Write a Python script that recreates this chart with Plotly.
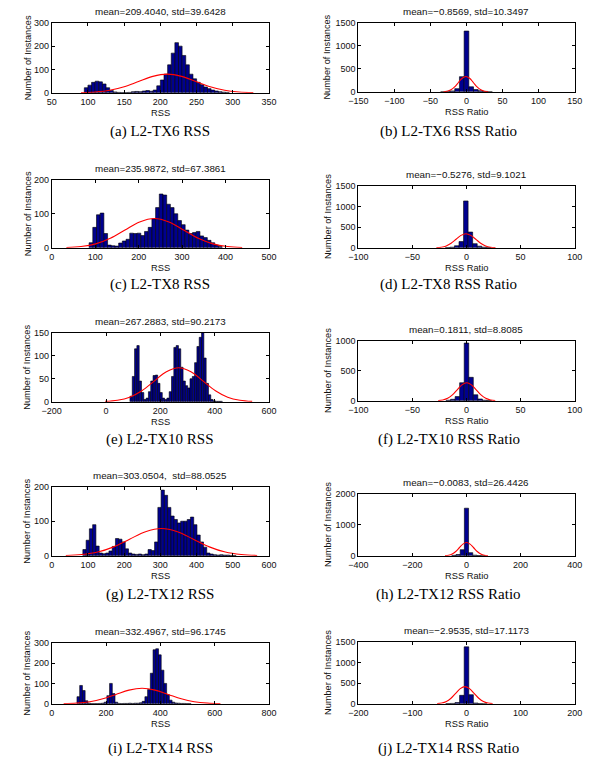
import numpy as np
import plotly.graph_objects as go

W, H = 604, 771

# ---------------- data ----------------
# (a) L2-TX6 RSS
a_title = "mean=209.4040, std=39.6428"
a_start, a_width = 95, 5
a_counts = [22, 33, 45, 50, 47, 38, 22, 10, 4, 2, 1, 1, 2, 5, 6, 5, 8, 10, 7, 12,
            30, 55, 80, 120, 170, 215, 200, 160, 120, 80, 60, 45, 35, 25, 18, 12, 8, 5, 3, 2]
a_fit_x = [90.5, 110.3, 130.1, 150.0, 169.8, 189.6, 209.4, 229.2, 249.0, 268.8, 288.7, 308.5, 328.3]
a_fit_y = [0.9, 3.5, 10.8, 26.0, 48.5, 70.6, 80.0, 70.6, 48.5, 26.0, 10.8, 3.5, 0.9]

# (b) L2-TX6 RSS Ratio
b_title = "mean=\u22120.8569, std=10.3497"
b_width = 6.5
b_centers = [-32.5, -26, -19.5, -13, -6.5, 0, 6.5, 13, 19.5, 26, 32.5]
b_counts = [5, 10, 20, 70, 330, 1320, 110, 50, 25, 10, 5]
b_fit_x = [-31.9, -26.7, -21.6, -16.4, -11.2, -6.0, -0.9, 4.3, 9.5, 14.7, 19.8, 25.0, 30.2]
b_fit_y = [3.7, 14.7, 45.3, 108.8, 203.2, 295.6, 335.0, 295.6, 203.2, 108.8, 45.3, 14.7, 3.7]

# (c) L2-TX8 RSS
c_title = "mean=235.9872, std=67.3861"
c_start, c_width = 86, 8.5
c_counts = [15, 60, 97, 102, 42, 8, 6, 5, 14, 20, 25, 43, 42, 43, 36, 48, 60, 85,
            118, 158, 155, 128, 118, 100, 80, 68, 52, 42, 45, 48, 35, 30, 22, 15, 8, 4]
c_fit_x = [33.8, 67.5, 101.2, 134.9, 168.6, 202.3, 236.0, 269.7, 303.4, 337.1, 370.8, 404.5, 438.2]
c_fit_y = [1.0, 3.8, 11.6, 27.9, 52.2, 75.9, 86.0, 75.9, 52.2, 27.9, 11.6, 3.8, 1.0]

# (d) L2-TX8 RSS Ratio
d_title = "mean=\u22120.5276, std=9.1021"
d_width = 4.2
d_centers = [-17.4, -13.2, -9.0, -4.8, -0.6, 3.6, 7.8, 12.0, 16.2, 20.4]
d_counts = [5, 15, 50, 150, 1130, 380, 100, 40, 15, 5]
d_fit_x = [-27.8, -23.3, -18.7, -14.2, -9.6, -5.1, -0.5, 4.0, 8.6, 13.1, 17.7, 22.2, 26.8]
d_fit_y = [3.8, 14.9, 46.0, 110.4, 206.2, 300.1, 340.0, 300.1, 206.2, 110.4, 46.0, 14.9, 3.8]

# (e) L2-TX10 RSS
e_title = "mean=267.2883, std=90.2173"
e_start, e_width = 88, 8.5
e_counts = [12, 55, 115, 122, 45, 20, 5, 8, 22, 45, 57, 58, 40, 20, 8, 5, 8, 22, 55, 118,
            122, 115, 75, 45, 35, 30, 50, 55, 85, 120, 140, 150, 95, 40, 15, 5, 2, 1, 1, 1]
e_fit_x = [-3.4, 41.8, 87.0, 132.0, 177.1, 222.2, 267.3, 312.4, 357.5, 402.6, 447.7, 492.8, 537.9]
e_fit_y = [0.8, 3.2, 10.0, 24.0, 44.9, 65.3, 74.0, 65.3, 44.9, 24.0, 10.0, 3.2, 0.8]

# (f) L2-TX10 RSS Ratio
f_title = "mean=0.1811, std=8.8085"
f_width = 4.2
f_centers = [-16.8, -12.6, -8.4, -4.2, 0, 4.2, 8.4, 12.6, 16.8, 21.0]
f_counts = [10, 25, 70, 300, 960, 390, 100, 30, 10, 5]
f_fit_x = [-26.2, -21.8, -17.4, -13.0, -8.6, -4.2, 0.2, 4.6, 9.0, 13.4, 17.8, 22.2, 26.6]
f_fit_y = [3.3, 13.2, 40.6, 97.4, 182.0, 264.8, 300.0, 264.8, 182.0, 97.4, 40.6, 13.2, 3.3]

# (g) L2-TX12 RSS
g_title = "mean=303.0504,  std=88.0525"
g_start, g_width = 86, 9
g_counts = [18, 45, 78, 90, 28, 8, 6, 8, 14, 27, 50, 48, 40, 20, 8, 5, 4, 5, 3, 5,
            18, 15, 40, 140, 190, 175, 140, 115, 105, 95, 100, 100, 105, 112, 90, 60,
            40, 25, 8, 5, 3, 2, 3, 2, 2, 1, 1]
g_fit_x = [38.9, 82.9, 127.0, 171.0, 215.0, 259.0, 303.1, 347.1, 391.1, 435.1, 479.2, 523.2, 567.2]
g_fit_y = [0.9, 3.5, 10.7, 25.7, 47.9, 69.7, 79.0, 69.7, 47.9, 25.7, 10.7, 3.5, 0.9]

# (h) L2-TX12 RSS Ratio
h_title = "mean=\u22120.0083, std=26.4426"
h_width = 15.5
h_centers = [-46.5, -31, -15.5, 0, 15.5, 31, 46.5, 62]
h_counts = [15, 40, 195, 1530, 100, 20, 8, 3]
h_fit_x = [-79.3, -66.1, -52.9, -39.7, -26.4, -13.2, 0.0, 13.2, 26.4, 39.7, 52.9, 66.1, 79.3]
h_fit_y = [4.7, 18.7, 57.5, 138.0, 257.8, 375.1, 425.0, 375.1, 257.8, 138.0, 57.5, 18.7, 4.7]

# (i) L2-TX14 RSS
i_title = "mean=332.4967, std=96.1745"
i_start, i_width = 93, 10
i_counts = [35, 90, 65, 15, 3, 1, 1, 1, 2, 3, 8, 40, 100, 50, 8, 2, 1, 2, 2, 3, 2, 3,
            3, 5, 12, 35, 70, 150, 265, 270, 240, 165, 100, 45, 18, 8, 4, 3, 2, 2, 1, 1]
i_fit_x = [44.0, 92.1, 140.2, 188.2, 236.3, 284.4, 332.5, 380.6, 428.7, 476.8, 524.8, 572.9, 621.0]
i_fit_y = [0.8, 3.3, 10.3, 24.7, 46.1, 67.1, 76.0, 67.1, 46.1, 24.7, 10.3, 3.3, 0.8]

# (j) L2-TX14 RSS Ratio
j_title = "mean=\u22122.9535, std=17.1173"
j_width = 8.5
j_centers = [-34, -25.5, -17, -8.5, 0, 8.5, 17, 25.5, 34]
j_counts = [5, 10, 30, 205, 1375, 220, 20, 8, 3]
j_fit_x = [-54.3, -45.7, -37.2, -28.6, -20.1, -11.5, -3.0, 5.6, 14.2, 22.7, 31.3, 39.8, 48.4]
j_fit_y = [4.6, 18.2, 56.1, 134.8, 251.7, 366.2, 415.0, 366.2, 251.7, 134.8, 56.1, 18.2, 4.6]

captions = ["(a) L2-TX6 RSS", "(b) L2-TX6 RSS Ratio",
            "(c) L2-TX8 RSS", "(d) L2-TX8 RSS Ratio",
            "(e) L2-TX10 RSS", "(f) L2-TX10 RSS Ratio",
            "(g) L2-TX12 RSS", "(h) L2-TX12 RSS Ratio",
            "(i) L2-TX14 RSS", "(j) L2-TX14 RSS Ratio"]

def centers_of(start, width, counts):
    return list(start + width * (np.arange(len(counts)) + 0.5))

panels = [
    dict(title=a_title, cx=centers_of(a_start, a_width, a_counts), cy=a_counts, w=a_width,
         fx=a_fit_x, fy=a_fit_y, xr=[50, 350], xt=[50, 100, 150, 200, 250, 300, 350],
         yr=[0, 300], yt=[0, 100, 200, 300], xl="RSS"),
    dict(title=b_title, cx=b_centers, cy=b_counts, w=b_width, fx=b_fit_x, fy=b_fit_y,
         xr=[-150, 150], xt=[-150, -100, -50, 0, 50, 100, 150], yr=[0, 1500],
         yt=[0, 500, 1000, 1500], xl="RSS Ratio"),
    dict(title=c_title, cx=centers_of(c_start, c_width, c_counts), cy=c_counts, w=c_width,
         fx=c_fit_x, fy=c_fit_y, xr=[0, 500], xt=[0, 100, 200, 300, 400, 500],
         yr=[0, 200], yt=[0, 100, 200], xl="RSS"),
    dict(title=d_title, cx=d_centers, cy=d_counts, w=d_width, fx=d_fit_x, fy=d_fit_y,
         xr=[-100, 100], xt=[-100, -50, 0, 50, 100], yr=[0, 1500],
         yt=[0, 500, 1000, 1500], xl="RSS Ratio"),
    dict(title=e_title, cx=centers_of(e_start, e_width, e_counts), cy=e_counts, w=e_width,
         fx=e_fit_x, fy=e_fit_y, xr=[-200, 600], xt=[-200, 0, 200, 400, 600],
         yr=[0, 150], yt=[0, 50, 100, 150], xl="RSS"),
    dict(title=f_title, cx=f_centers, cy=f_counts, w=f_width, fx=f_fit_x, fy=f_fit_y,
         xr=[-100, 100], xt=[-100, -50, 0, 50, 100], yr=[0, 1000],
         yt=[0, 500, 1000], xl="RSS Ratio"),
    dict(title=g_title, cx=centers_of(g_start, g_width, g_counts), cy=g_counts, w=g_width,
         fx=g_fit_x, fy=g_fit_y, xr=[0, 600], xt=[0, 100, 200, 300, 400, 500, 600],
         yr=[0, 200], yt=[0, 100, 200], xl="RSS"),
    dict(title=h_title, cx=h_centers, cy=h_counts, w=h_width, fx=h_fit_x, fy=h_fit_y,
         xr=[-400, 400], xt=[-400, -200, 0, 200, 400], yr=[0, 2000],
         yt=[0, 1000, 2000], xl="RSS Ratio"),
    dict(title=i_title, cx=centers_of(i_start, i_width, i_counts), cy=i_counts, w=i_width,
         fx=i_fit_x, fy=i_fit_y, xr=[0, 800], xt=[0, 200, 400, 600, 800],
         yr=[0, 300], yt=[0, 100, 200, 300], xl="RSS"),
    dict(title=j_title, cx=j_centers, cy=j_counts, w=j_width, fx=j_fit_x, fy=j_fit_y,
         xr=[-200, 200], xt=[-200, -100, 0, 100, 200], yr=[0, 1500],
         yt=[0, 500, 1000, 1500], xl="RSS Ratio"),
]

# ---------------- layout geometry (pixels) ----------------
col_x = [(43, 267), (359, 582)]
rows_left = [(18, 89), (177, 246), (332, 402), (488, 558), (646, 708)]
rows_right = [(18, 88), (183, 246), (340, 401), (495, 558), (645, 708)]
caption_y = [128, 283, 440, 597, 753]
caption_x = [155, 452]
ylabel_x = [18, 327]

SANS = "Liberation Sans, Arial, sans-serif"
SERIF = "Liberation Serif, Times New Roman, serif"

fig = go.Figure()
layout = dict(width=W, height=H, margin=dict(l=0, r=0, t=0, b=0),
              paper_bgcolor="white", plot_bgcolor="white", showlegend=False,
              barmode="overlay")
annotations = []

def px(x):
    return x / W

def py(y):
    return 1 - y / H

for k, p in enumerate(panels):
    r, c = divmod(k, 2)
    n = k + 1
    xs = "x" if n == 1 else f"x{n}"
    ys = "y" if n == 1 else f"y{n}"
    x0, x1 = col_x[c]
    top, bot = (rows_left if c == 0 else rows_right)[r]

    fig.add_trace(go.Bar(x=p["cx"], y=p["cy"], width=p["w"], xaxis=xs, yaxis=ys,
                         marker=dict(color="#00008F", line=dict(color="black", width=0.6)),
                         hoverinfo="skip"))
    fig.add_trace(go.Scatter(x=p["fx"], y=p["fy"], mode="lines", xaxis=xs, yaxis=ys,
                             line=dict(color="red", width=1.1, shape="spline"),
                             hoverinfo="skip"))

    axcommon = dict(showline=True, linecolor="black", linewidth=1, mirror="allticks",
                    ticks="inside", ticklen=3, tickwidth=0.8, tickcolor="black",
                    showgrid=False, zeroline=False,
                    tickfont=dict(family=SANS, size=9, color="#111"))
    layout["xaxis" if n == 1 else f"xaxis{n}"] = dict(
        domain=[px(x0), px(x1)], anchor=ys, range=p["xr"], tickvals=p["xt"], **axcommon)
    layout["yaxis" if n == 1 else f"yaxis{n}"] = dict(
        domain=[py(bot), py(top)], anchor=xs, range=p["yr"], tickvals=p["yt"], **axcommon)

    cx = (x0 + x1) / 2
    annotations.append(dict(x=px(cx), y=py(top - 11), xref="paper", yref="paper",
                            text=p["title"], showarrow=False, xanchor="center", yanchor="middle",
                            font=dict(family=SANS, size=9.8, color="#111")))
    annotations.append(dict(x=px(cx), y=py(bot + 20), xref="paper", yref="paper",
                            text=p["xl"], showarrow=False, xanchor="center", yanchor="middle",
                            borderpad=0,
                            font=dict(family=SANS, size=9.3, color="#111")))
    annotations.append(dict(x=px(ylabel_x[c]), y=py((top + bot) / 2), xref="paper", yref="paper",
                            text="Number of Instances", showarrow=False, textangle=-90,
                            xanchor="center", yanchor="middle", borderpad=0,
                            font=dict(family=SANS, size=9.2, color="#111")))
    annotations.append(dict(x=px(caption_x[c]), y=py(caption_y[r]), xref="paper", yref="paper",
                            text=captions[k], showarrow=False, xanchor="center", yanchor="middle",
                            font=dict(family=SERIF, size=15, color="black")))

layout["annotations"] = annotations
fig.update_layout(**layout)
fig.write_html("out.html")
